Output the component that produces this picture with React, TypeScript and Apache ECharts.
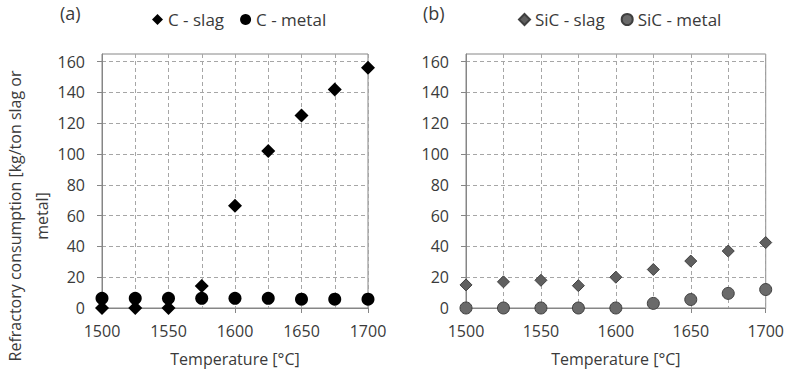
import React, { useEffect, useRef } from "react";
import * as echarts from "echarts";

const temps = [1500, 1525, 1550, 1575, 1600, 1625, 1650, 1675, 1700];
const cSlag = [0, 0, 0, 14.3, 66.5, 102, 125, 142, 156];
const cMetal = [6.3, 6.3, 6.3, 6.3, 6.3, 6.3, 5.7, 5.7, 5.7];
const sicSlag = [15, 17, 18, 14.5, 20, 25, 30.5, 37, 42.5];
const sicMetal = [0, 0, 0, 0, 0, 3, 5.5, 9.5, 12];
const xTicks = [1500, 1550, 1600, 1650, 1700];
const yTicks = [0, 20, 40, 60, 80, 100, 120, 140, 160];

const FONT = "Open Sans";
const TEXT = "#3a3a3a";
const AXIS = "#868686";
const GRIDC = "#a6a6a6";

const pairs = (vals: number[]) => temps.map((t, i) => [t, vals[i]]);

function xAxisCfg(gridIndex: number) {
  return {
    type: "value",
    gridIndex,
    min: 1500,
    max: 1700,
    interval: 50,
    name: "Temperature [°C]",
    nameLocation: "middle",
    nameGap: 43,
    nameTextStyle: { color: TEXT, fontFamily: FONT, fontSize: 16 },
    axisLine: { show: true, lineStyle: { color: AXIS, width: 1 } },
    axisTick: { show: true, inside: false, length: 5, lineStyle: { color: AXIS }, customValues: xTicks },
    axisLabel: {
      color: TEXT,
      fontFamily: FONT,
      fontSize: 16,
      margin: 15,
      customValues: xTicks,
      formatter: (v: number) => String(v),
    },
    splitLine: { show: true, lineStyle: { color: GRIDC, type: [4, 3], width: 1 } },
    minorTick: { show: false, splitNumber: 2 },
    minorSplitLine: { show: true, lineStyle: { color: GRIDC, type: [4, 3], width: 1 } },
  };
}

function yAxisCfg(gridIndex: number) {
  return {
    type: "value",
    gridIndex,
    min: 0,
    max: 165,
    interval: 20,
    axisLine: { show: true, lineStyle: { color: AXIS, width: 1 } },
    axisTick: { show: true, inside: false, length: 5, lineStyle: { color: AXIS }, customValues: yTicks },
    axisLabel: {
      color: TEXT,
      fontFamily: FONT,
      fontSize: 16,
      margin: 17,
      customValues: yTicks,
      formatter: (v: number) => String(v),
    },
    splitLine: { show: true, lineStyle: { color: GRIDC, type: [4, 3], width: 1 } },
  };
}

export default function App() {
  const ref = useRef<HTMLDivElement>(null);
  useEffect(() => {
    if (!ref.current) return;
    const chart = echarts.init(ref.current, null, { renderer: "svg" });
    chart.setOption({
      animation: false,
      backgroundColor: "#ffffff",
      grid: [
        { left: 102, top: 54, width: 266, height: 254, show: true, borderColor: AXIS, borderWidth: 1 },
        { left: 466, top: 54, width: 301, height: 254, show: true, borderColor: AXIS, borderWidth: 1 },
      ],
      xAxis: [xAxisCfg(0), xAxisCfg(1)],
      yAxis: [yAxisCfg(0), yAxisCfg(1)],
      legend: [
        {
          data: ["C - slag", "C - metal"],
          left: 147,
          top: 6,
          itemWidth: 11,
          itemHeight: 11,
          itemGap: 16,
          textStyle: { color: TEXT, fontFamily: FONT, fontSize: 17 },
        },
        {
          data: ["SiC - slag", "SiC - metal"],
          left: 513,
          top: 6,
          itemWidth: 11,
          itemHeight: 11,
          itemGap: 16,
          textStyle: { color: TEXT, fontFamily: FONT, fontSize: 17 },
        },
      ],
      graphic: [
        {
          type: "text",
          left: 60,
          top: 4,
          style: { text: "(a)", fill: TEXT, font: `18px "${FONT}"` },
        },
        {
          type: "text",
          left: 423,
          top: 4,
          style: { text: "(b)", fill: TEXT, font: `18px "${FONT}"` },
        },
        {
          type: "text",
          x: 28,
          y: 216,
          rotation: Math.PI / 2,
          style: {
            text: "Refractory consumption [kg/ton slag or\nmetal]",
            fill: TEXT,
            font: `16px "${FONT}"`,
            lineHeight: 27,
            align: "center",
            verticalAlign: "middle",
          },
        },
      ],
      series: [
        {
          name: "C - slag",
          type: "scatter",
          xAxisIndex: 0,
          yAxisIndex: 0,
          symbol: "diamond",
          symbolSize: 14,
          itemStyle: { color: "#000000", opacity: 1 },
          data: pairs(cSlag),
        },
        {
          name: "C - metal",
          type: "scatter",
          xAxisIndex: 0,
          yAxisIndex: 0,
          symbol: "circle",
          symbolSize: 13,
          itemStyle: { color: "#000000", opacity: 1 },
          data: pairs(cMetal),
        },
        {
          name: "SiC - slag",
          type: "scatter",
          xAxisIndex: 1,
          yAxisIndex: 1,
          symbol: "diamond",
          symbolSize: 12,
          itemStyle: { color: "#5f5f5f", borderColor: "#3f3f3f", borderWidth: 1, opacity: 1 },
          data: pairs(sicSlag),
        },
        {
          name: "SiC - metal",
          type: "scatter",
          xAxisIndex: 1,
          yAxisIndex: 1,
          symbol: "circle",
          symbolSize: 12,
          itemStyle: { color: "#6a6a6a", borderColor: "#3f3f3f", borderWidth: 1, opacity: 1 },
          data: pairs(sicMetal),
        },
      ],
    });
    return () => chart.dispose();
  }, []);
  return <div ref={ref} style={{ width: 787, height: 374, position: "absolute", left: 0, top: 0 }} />;
}
